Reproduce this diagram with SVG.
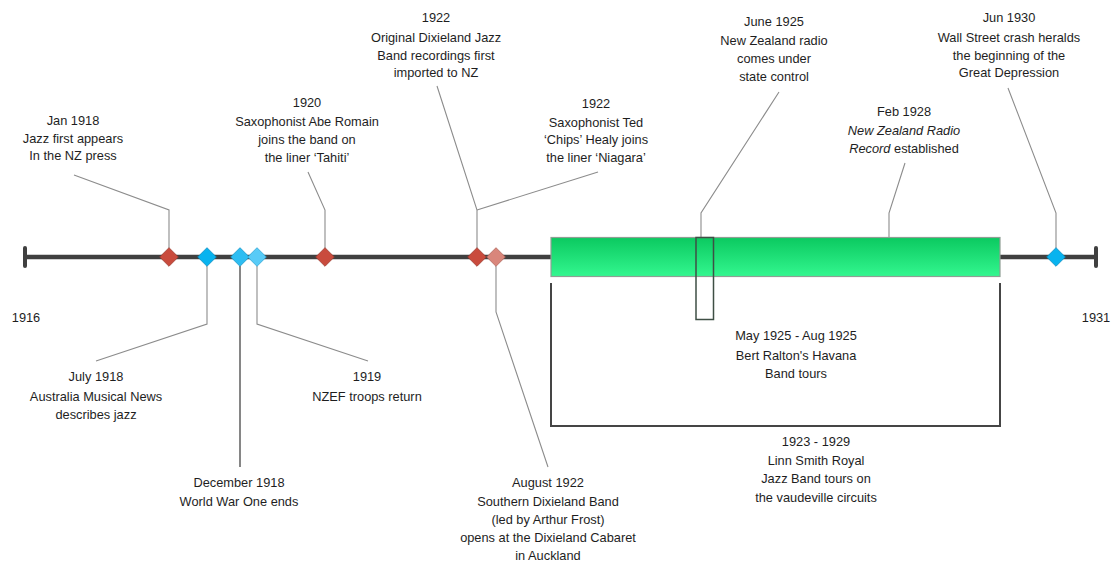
<svg xmlns="http://www.w3.org/2000/svg" width="1111" height="562" viewBox="0 0 1111 562">
<style>
text{font-family:"Liberation Sans",Arial,sans-serif;font-size:12.8px;fill:#1e1e1e;text-anchor:middle}
.lead{fill:none;stroke:#8c8c8c;stroke-width:1.1}
.dark{fill:none;stroke:#454545;stroke-width:1.3}
.red{fill:#c94b3d;stroke:#9c3a2f;stroke-width:0.8}
.salmon{fill:#d9867b;stroke:#b0655b;stroke-width:0.8}
.blue{fill:#08b3ef;stroke:#0a8cc0;stroke-width:0.8}
.blue2{fill:#2dbdf2;stroke:#1395c8;stroke-width:0.8}
.blue3{fill:#58cbf7;stroke:#2ba3d4;stroke-width:0.8}
.it{font-style:italic}
</style>
<defs>
<path id="dia" d="M0,-9.3 L9.3,0 L0,9.3 L-9.3,0 Z"/>
<linearGradient id="grn" x1="0" y1="0" x2="0" y2="1">
<stop offset="0" stop-color="#0bc960"/>
<stop offset="1" stop-color="#33f78f"/>
</linearGradient>
</defs>
<rect width="1111" height="562" fill="#ffffff"/>
<g id="axis">
<line x1="25" y1="257" x2="1096" y2="257" stroke="#404040" stroke-width="4.5"/>
<line x1="25" y1="248" x2="25" y2="266" stroke="#404040" stroke-width="4" stroke-linecap="round"/>
<line x1="1096" y1="248" x2="1096" y2="266" stroke="#404040" stroke-width="4" stroke-linecap="round"/>
<text x="26" y="322">1916</text>
<text x="1096" y="322">1931</text>
</g>
<g id="connectors">
<polyline class="lead" points="74,175 169,210 169,248"/>
<polyline class="lead" points="207,266 207,324 96,361"/>
<polyline class="dark" points="240,266 240,467"/>
<polyline class="lead" points="257,266 257,324 368,361"/>
<polyline class="lead" points="308,172 325,210 325,248"/>
<polyline class="lead" points="437,86 477,210 477,248"/>
<polyline class="lead" points="598,172 477,210"/>
<polyline class="lead" points="496,266 496,312 548,467"/>
<polyline class="lead" points="779,92 701,213 701,237"/>
<polyline class="lead" points="905,163 889,213 889,237"/>
<polyline class="lead" points="1008,88 1056,213 1056,248"/>
</g>
<g id="linn-smith">
<rect x="551" y="237.5" width="449" height="39" fill="url(#grn)" stroke="#8f9f94" stroke-width="1.2"/>
<path d="M551,283 V426 H1000 V283" fill="none" stroke="#454545" stroke-width="2"/>
<text x="816" y="445.5">1923 - 1929</text>
<text x="816" y="464.5">Linn Smith Royal</text>
<text x="816" y="482.5">Jazz Band tours on</text>
<text x="816" y="501.5">the vaudeville circuits</text>
</g>
<g id="bert-ralton">
<rect x="696" y="237.5" width="17.5" height="82" fill="none" stroke="#3f4f45" stroke-width="1.5"/>
<text x="796" y="339.5">May 1925 - Aug 1925</text>
<text x="796" y="359.5">Bert Ralton's Havana</text>
<text x="796" y="377.5">Band tours</text>
</g>
<g id="jan-1918">
<use href="#dia" x="169" y="257" class="red"/>
<text x="73" y="124.5">Jan 1918</text>
<text x="73" y="142.5">Jazz first appears</text>
<text x="73" y="159.5">In the NZ press</text>
</g>
<g id="july-1918">
<use href="#dia" x="207" y="257" class="blue"/>
<text x="96" y="380.5">July 1918</text>
<text x="96" y="400.5">Australia Musical News</text>
<text x="96" y="418.5">describes jazz</text>
</g>
<g id="dec-1918">
<use href="#dia" x="240" y="257" class="blue2"/>
<text x="239" y="486.5">December 1918</text>
<text x="239" y="505.5">World War One ends</text>
</g>
<g id="y1919">
<use href="#dia" x="257" y="257" class="blue3"/>
<text x="367" y="380.5">1919</text>
<text x="367" y="400.5">NZEF troops return</text>
</g>
<g id="y1920">
<use href="#dia" x="325" y="257" class="red"/>
<text x="307" y="106.5">1920</text>
<text x="307" y="125.5">Saxophonist Abe Romain</text>
<text x="307" y="143.5">joins the band on</text>
<text x="307" y="161.5">the liner ‘Tahiti’</text>
</g>
<g id="y1922-odjb">
<use href="#dia" x="477" y="257" class="red"/>
<text x="436" y="21.5">1922</text>
<text x="436" y="41.5">Original Dixieland Jazz</text>
<text x="436" y="59.5">Band recordings first</text>
<text x="436" y="76.5">imported to NZ</text>
</g>
<g id="y1922-healy">
<text x="596" y="107.5">1922</text>
<text x="596" y="126.5">Saxophonist Ted</text>
<text x="596" y="143.5">‘Chips’ Healy joins</text>
<text x="596" y="161.5">the liner ‘Niagara’</text>
</g>
<g id="aug-1922">
<use href="#dia" x="496" y="257" class="salmon"/>
<text x="548" y="486.5">August 1922</text>
<text x="548" y="505.5">Southern Dixieland Band</text>
<text x="548" y="523.5">(led by Arthur Frost)</text>
<text x="548" y="541.5">opens at the Dixieland Cabaret</text>
<text x="548" y="559.5">in Auckland</text>
</g>
<g id="june-1925">
<text x="774" y="25.5">June 1925</text>
<text x="774" y="44.5">New Zealand radio</text>
<text x="774" y="62.5">comes under</text>
<text x="774" y="80.5">state control</text>
</g>
<g id="feb-1928">
<text x="904" y="116">Feb 1928</text>
<text x="904" y="134.5" class="it">New Zealand Radio</text>
<text x="904" y="152.5"><tspan class="it">Record</tspan> established</text>
</g>
<g id="jun-1930">
<use href="#dia" x="1056" y="257" class="blue"/>
<text x="1009" y="21.5">Jun 1930</text>
<text x="1009" y="41.5">Wall Street crash heralds</text>
<text x="1009" y="59.5">the beginning of the</text>
<text x="1009" y="76.5">Great Depression</text>
</g>
</svg>
